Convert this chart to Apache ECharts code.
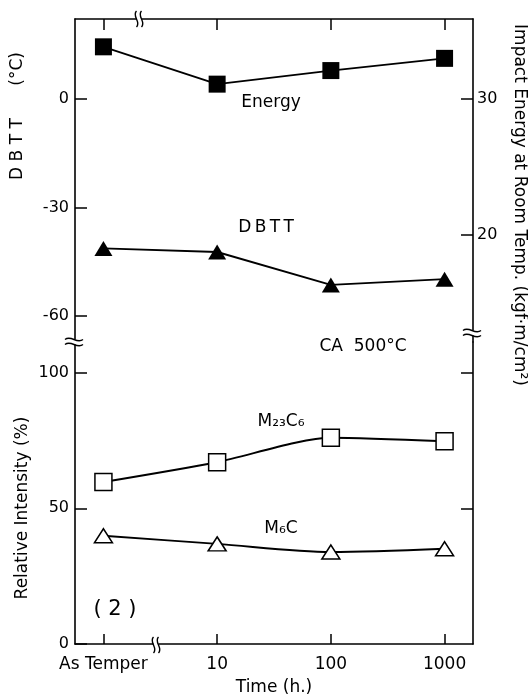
<!DOCTYPE html>
<html>
<head>
<meta charset="utf-8">
<script src="https://cdn.jsdelivr.net/npm/echarts@6/dist/echarts.min.js"></script>
<style>
html, body { margin: 0; padding: 0; background: #fff; }
#main { width: 528px; height: 697px; }
</style>
</head>
<body>
<div id="main"></div>
<script>
// data
var timeLabels = ['As Temper', '10', '100', '1000'];
var timePos = [0, 1, 2, 3];                 // log-spaced positions, As Temper first
var energy = [33.85, 31.1, 32.1, 33.0];     // impact energy, kgf·m/cm2 (right axis)
var dbtt = [-41.3, -42.3, -51.4, -49.8];    // DBTT, °C
var m23c6 = [59.7, 67.0, 76.0, 74.7];       // relative intensity, %
var m6c = [39.9, 36.9, 33.9, 35.1];         // relative intensity, %
var dbttTicks = [-60, -30, 0];
var energyTicks = [20, 30];
var intensityTicks = [0, 50, 100];

var FONT = 'DejaVu Sans';
var dom = document.getElementById('main');
var myChart = echarts.init(dom, null, { renderer: 'canvas' });

function pairs(ys) {
    return timePos.map(function (x, i) { return [x, ys[i]]; });
}

var lineStyle = { color: '#000', width: 1.9 };
var axisLine = { show: true, onZero: false, lineStyle: { color: '#000', width: 1.6 } };

function yAx(grid, pos, min, max, ticks, showLabel) {
    return {
        type: 'value', gridIndex: grid, position: pos, min: min, max: max,
        axisLine: axisLine,
        axisTick: { show: true, inside: true, length: 12, customValues: ticks, lineStyle: { color: '#000', width: 1.5 } },
        axisLabel: { show: showLabel, customValues: ticks, margin: pos === 'left' ? 6 : 4, color: '#000', fontFamily: FONT, fontSize: 16 },
        splitLine: { show: false }
    };
}

// break marks (decoration only)
function breakMark(cx, cy, vertical) {
    var items = [];
    var d = [-2.5, 2.5];
    items.push({
        type: 'rect', z: 100,
        shape: vertical ? { x: cx - 2.5, y: cy - 9, width: 5, height: 18 } : { x: cx - 9, y: cy - 2.5, width: 18, height: 5 },
        style: { fill: '#fff' }
    });
    d.forEach(function (o) {
        var shape = vertical
            ? { x1: cx + o, y1: cy - 8, cpx1: cx + o - 5, cpy1: cy - 3, cpx2: cx + o + 5, cpy2: cy + 3, x2: cx + o, y2: cy + 8 }
            : { x1: cx - 9, y1: cy + o, cpx1: cx - 3, cpy1: cy + o - 5, cpx2: cx + 3, cpy2: cy + o + 5, x2: cx + 9, y2: cy + o };
        items.push({ type: 'bezierCurve', z: 101, shape: shape, style: { stroke: '#000', lineWidth: 1.4, fill: null } });
    });
    return items;
}

function label(text, x, y, size, rot) {
    return {
        type: 'text', x: x, y: y, rotation: rot || 0, z: 50,
        style: { text: text, fill: '#000', font: size + 'px "' + FONT + '"', align: 'center', verticalAlign: 'middle' }
    };
}

var graphics = [
    label('D B T T      (°C)', 18, 116, 17, Math.PI / 2),
    label('Relative Intensity (%)', 23, 508, 17, Math.PI / 2),
    label('Impact Energy at Room Temp. (kgf·m/cm²)', 519, 205, 17, -Math.PI / 2),
    label('Energy', 271, 103, 17),
    label('D\u2009B\u2009T\u2009T', 266, 228, 17),
    label('CA  500°C', 363, 347, 17),
    label('M₂₃C₆', 281, 422, 17),
    label('M₆C', 281, 529, 17),
    label('( 2 )', 115, 610, 21)
].concat(breakMark(139, 19, true), breakMark(156, 645, true), breakMark(74, 342, false), breakMark(472, 333, false));

option = {
    animation: false,
    backgroundColor: '#fff',
    grid: [
        { left: 75, right: 55, top: 19, height: 323 },
        { left: 75, right: 55, top: 342, height: 303 }
    ],
    xAxis: [
        {
            type: 'value', gridIndex: 0, position: 'top', min: -0.25, max: 3.25,
            axisLine: axisLine,
            axisTick: { show: true, inside: true, length: 11, customValues: timePos, lineStyle: { color: '#000', width: 1.5 } },
            axisLabel: { show: false },
            splitLine: { show: false }
        },
        {
            type: 'value', gridIndex: 1, position: 'bottom', min: -0.25, max: 3.25,
            name: 'Time (h.)', nameLocation: 'middle', nameGap: 35,
            nameTextStyle: { color: '#000', fontFamily: FONT, fontSize: 17 },
            axisLine: axisLine,
            axisTick: { show: true, inside: true, length: 10, customValues: timePos, lineStyle: { color: '#000', width: 1.5 } },
            axisLabel: {
                customValues: timePos, margin: 12, color: '#000', fontFamily: FONT, fontSize: 17,
                formatter: function (v) { return timeLabels[Math.round(v)]; }
            },
            splitLine: { show: false }
        }
    ],
    yAxis: [
        yAx(0, 'left', -67.2, 22.2, dbttTicks, true),
        yAx(0, 'right', 12.1, 35.9, energyTicks, true),
        yAx(1, 'left', 0, 111.3, intensityTicks, true),
        yAx(1, 'right', 0, 111.3, [50, 100], false)
    ],
    series: [
        {
            name: 'Energy', type: 'line', xAxisIndex: 0, yAxisIndex: 1,
            data: pairs(energy), symbol: 'rect', symbolSize: 17,
            itemStyle: { color: '#000' }, lineStyle: lineStyle
        },
        {
            name: 'DBTT', type: 'line', xAxisIndex: 0, yAxisIndex: 0,
            data: pairs(dbtt), symbol: 'triangle', symbolSize: [18, 15],
            itemStyle: { color: '#000' }, lineStyle: lineStyle
        },
        {
            name: 'M23C6', type: 'line', xAxisIndex: 1, yAxisIndex: 2,
            data: pairs(m23c6), symbol: 'rect', symbolSize: 17, smooth: 0.25,
            itemStyle: { color: '#fff', borderColor: '#000', borderWidth: 1.5 }, lineStyle: lineStyle
        },
        {
            name: 'M6C', type: 'line', xAxisIndex: 1, yAxisIndex: 2,
            data: pairs(m6c), symbol: 'triangle', symbolSize: [18, 14], smooth: 0.3,
            itemStyle: { color: '#fff', borderColor: '#000', borderWidth: 1.5 }, lineStyle: lineStyle
        }
    ],
    graphic: graphics
};

myChart.setOption(option, true);
</script>
</body>
</html>
